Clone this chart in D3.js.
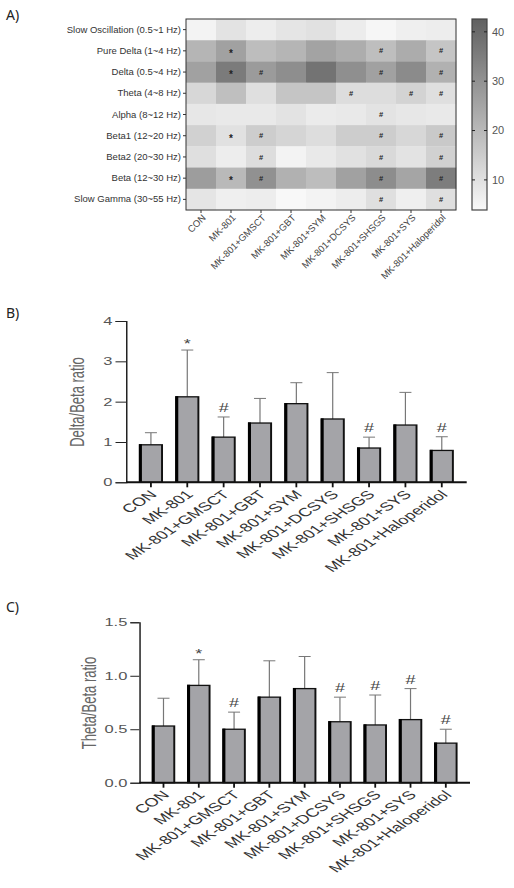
<!DOCTYPE html>
<html><head><meta charset="utf-8">
<script src="https://cdn.jsdelivr.net/npm/d3@7"></script>
<style>body{margin:0;background:#fff}text{font-family:"Liberation Sans",Arial,sans-serif}</style>
</head><body><svg id="c" width="514" height="888"></svg>
<script>
const groups = ["CON","MK-801","MK-801+GMSCT","MK-801+GBT","MK-801+SYM","MK-801+DCSYS","MK-801+SHSGS","MK-801+SYS","MK-801+Haloperidol"];
const bands = ["Slow Oscillation (0.5~1 Hz)","Pure Delta (1~4 Hz)","Delta (0.5~4 Hz)","Theta (4~8 Hz)","Alpha (8~12 Hz)","Beta1 (12~20 Hz)","Beta2 (20~30 Hz)","Beta (12~30 Hz)","Slow Gamma (30~55 Hz)"];
// relative power (%) per band (rows) x group (columns)
const slowOsc   = [5.3, 9.3, 6.8, 8.8, 9.8, 7.0, 4.5, 6.3, 6.8];
const pureDelta = [21, 26, 19, 21, 25.6, 23, 18.7, 23.3, 17];
const delta     = [26, 35.7, 27.6, 31, 37.8, 30.7, 26, 31.7, 22];
const theta     = [12.4, 18.5, 10.3, 17, 17, 10.9, 10.9, 13.4, 10.3];
const alpha     = [8.3, 7.8, 7.8, 9.3, 7.3, 7.8, 9.3, 8.3, 7.8];
const beta1     = [13.9, 9.8, 14.9, 12.9, 10.9, 14.9, 14.9, 12.4, 15.9];
const beta2     = [10.3, 6.8, 10.9, 5.3, 7.8, 9.8, 11.9, 9.3, 13.9];
const beta      = [27.1, 20, 30.2, 22, 19, 26, 31.2, 25, 35.2];
const slowGamma = [8.8, 6.3, 6.8, 4.0, 5.3, 6.8, 10.3, 6.3, 10.3];
const power = [slowOsc, pureDelta, delta, theta, alpha, beta1, beta2, beta, slowGamma];
const heatMarks = [
  ["","","","","","","","",""],
  ["","*","","","","","#","","#"],
  ["","*","#","","","","#","","#"],
  ["","","","","","#","","#","#"],
  ["","","","","","","#","",""],
  ["","*","#","","","","#","","#"],
  ["","","#","","","","#","","#"],
  ["","*","#","","","","#","","#"],
  ["","","","","","","#","","#"]
];
const colorDomain = [3.9, 42.6];
const colorTicks = [10, 20, 30, 40];

const deltaBeta    = [0.93, 2.12, 1.12, 1.47, 1.95, 1.57, 0.85, 1.42, 0.79];
const deltaBetaSD  = [0.30, 1.16, 0.50, 0.61, 0.52, 1.15, 0.27, 0.81, 0.34];
const deltaBetaSig = ["","*","#","","","","#","","#"];
const deltaTicks   = [0,1,2,3,4];

const thetaBeta    = [0.53, 0.91, 0.50, 0.80, 0.88, 0.57, 0.54, 0.59, 0.37];
const thetaBetaSD  = [0.26, 0.24, 0.16, 0.34, 0.30, 0.23, 0.28, 0.29, 0.13];
const thetaBetaSig = ["","*","#","","","#","#","#","#"];
const thetaTicks   = [0,0.5,1.0,1.5];

const svg = d3.select("#c");
svg.append("rect").attr("width",514).attr("height",888).attr("fill","#fff");

// panel letters
[["A)",20],["B)",318],["C)",612]].forEach(([t,y])=>{
  svg.append("text").attr("x",6).attr("y",y).text(t)
    .style("font-family","'Noto Sans',sans-serif").style("font-size","14px").attr("fill","#222");
});

// ---------- Panel A heatmap ----------
const hx = d3.scaleBand().domain(groups).range([186,456]);
const hy = d3.scaleBand().domain(bands).range([19,210]);
const col = d3.scaleLinear().domain(colorDomain).range(["#f8f8f8","#606060"]).clamp(true);
const gA = svg.append("g");
power.forEach((row,i)=>{
  row.forEach((v,j)=>{
    gA.append("rect").attr("x",hx(groups[j])).attr("y",hy(bands[i]))
      .attr("width",hx.bandwidth()+0.3).attr("height",hy.bandwidth()+0.3).attr("fill",col(v));
    const m = heatMarks[i][j];
    if(m){
      gA.append("text").attr("x",hx(groups[j])+hx.bandwidth()/2)
        .attr("y",hy(bands[i])+hy.bandwidth()/2).attr("dy", m==="*"?"0.62em":"0.35em")
        .attr("text-anchor","middle").style("font-size", m==="*"?"10px":"7.5px")
        .style("font-weight","bold").attr("fill","#222")
        .text(m);
    }
  });
});
gA.append("rect").attr("x",186).attr("y",19).attr("width",270).attr("height",191)
  .attr("fill","none").attr("stroke","#333").attr("stroke-width",1);
const ayAxis = gA.append("g").attr("transform","translate(186,0)")
  .call(d3.axisLeft(hy).tickSize(3).tickPadding(2));
ayAxis.select(".domain").remove();
ayAxis.selectAll("text").style("font-size","9.5px").attr("fill","#333");
ayAxis.selectAll("line").attr("stroke","#333");
const axAxis = gA.append("g").attr("transform","translate(0,210)")
  .call(d3.axisBottom(hx).tickSize(3).tickFormat(""));
axAxis.select(".domain").remove();
axAxis.selectAll("line").attr("stroke","#333");
groups.forEach(g=>{
  gA.append("text").attr("transform",`translate(${hx(g)+hx.bandwidth()/2+3},216) rotate(-45)`)
    .attr("text-anchor","end").attr("dy","0.35em").style("font-size","9.5px").attr("fill","#444").text(g);
});
// colorbar
const cy = d3.scaleLinear().domain(colorDomain).range([210,19]);
const defs = svg.append("defs");
const grad = defs.append("linearGradient").attr("id","cg").attr("x1",0).attr("y1",1).attr("x2",0).attr("y2",0);
d3.range(0,1.01,0.1).forEach(t=>{
  grad.append("stop").attr("offset",t).attr("stop-color",col(colorDomain[0]+t*(colorDomain[1]-colorDomain[0])));
});
gA.append("rect").attr("x",472).attr("y",19).attr("width",15).attr("height",191)
  .attr("fill","url(#cg)").attr("stroke","#444").attr("stroke-width",1.2);
colorTicks.forEach(t=>{
  gA.append("line").attr("x1",472).attr("x2",475).attr("y1",cy(t)).attr("y2",cy(t)).attr("stroke","#222");
  gA.append("line").attr("x1",484).attr("x2",487).attr("y1",cy(t)).attr("y2",cy(t)).attr("stroke","#222");
  gA.append("text").attr("x",492).attr("y",cy(t)).attr("dy","0.35em").style("font-size","11px")
    .attr("fill","#555").text(t);
});

// ---------- Bar panels (drawn in a horizontally stretched frame) ----------
const SX = 1.5;
function barPanel(cfg){
  const g = svg.append("g").attr("transform",`scale(${SX},1)`);
  const x = d3.scaleBand().domain(groups).range([cfg.x0/SX, cfg.x1/SX])
    .paddingInner(0.389).paddingOuter(0.38);
  const y = d3.scaleLinear().domain([0,cfg.max]).range([cfg.yb, cfg.yt]);
  // error bars
  cfg.vals.forEach((v,i)=>{
    const cx = x(groups[i])+x.bandwidth()/2;
    const top = y(v+cfg.sd[i]);
    g.append("line").attr("x1",cx).attr("x2",cx).attr("y1",y(v)).attr("y2",top)
      .attr("stroke","#777").attr("stroke-width",0.8);
    g.append("line").attr("x1",cx-4).attr("x2",cx+4).attr("y1",top).attr("y2",top)
      .attr("stroke","#777").attr("stroke-width",1);
    if(cfg.sig[i]){
      g.append("text").attr("x",cx).attr("y",cfg.sig[i]==="*"?top-2:top-5)
        .attr("text-anchor","middle").style("font-size","12px").attr("fill","#444").text(cfg.sig[i]);
    }
  });
  // bars
  cfg.vals.forEach((v,i)=>{
    const bx = x(groups[i]), bw = x.bandwidth();
    g.append("rect").attr("x",bx).attr("y",y(v)).attr("width",bw).attr("height",cfg.yb-y(v))
      .attr("fill","#a4a4a8").attr("stroke","#111").attr("stroke-width",1.3);
    g.append("rect").attr("x",bx-0.6).attr("y",y(v)-0.6).attr("width",2).attr("height",cfg.yb-y(v)+0.6)
      .attr("fill","#000");
  });
  // y axis
  const ya = g.append("g").attr("transform",`translate(${cfg.x0/SX},0)`)
    .call(d3.axisLeft(y).tickValues(cfg.ticks).tickFormat(cfg.fmt).tickSize(cfg.tick).tickPadding(2));
  ya.select(".domain").attr("stroke","#222").attr("stroke-width",1);
  ya.selectAll("line").attr("stroke","#222");
  ya.selectAll("text").style("font-size","11px").attr("fill","#555");
  // x axis
  const xa = g.append("g").attr("transform",`translate(0,${cfg.yb})`)
    .call(d3.axisBottom(x).tickSize(5).tickFormat("").tickSizeOuter(0));
  xa.select(".domain").attr("stroke","#111").attr("stroke-width",2)
    .attr("d",`M${cfg.x0/SX},0H${cfg.x1/SX}`);
  xa.selectAll("line").attr("stroke","#111").attr("stroke-width",1.2);
  groups.forEach(gn=>{
    g.append("text").attr("transform",`translate(${x(gn)+x.bandwidth()/2+1.5},${cfg.yb+cfg.lab}) rotate(-45)`)
      .attr("text-anchor","end").attr("dy","0.35em").style("font-size","12px").attr("fill","#333").text(gn);
  });
  // y label
  g.append("text").attr("transform",`translate(${cfg.lx/SX},${cfg.ly}) rotate(-90)`)
    .attr("text-anchor","middle").attr("dy","0.35em").style("font-size","13px").attr("fill","#666")
    .text(cfg.label);
}
barPanel({x0:126, x1:466.7, yb:482.3, yt:321, max:4, vals:deltaBeta, sd:deltaBetaSD, sig:deltaBetaSig,
  ticks:deltaTicks, fmt:d3.format("d"), tick:7, lab:10, lx:77, ly:402, label:"Delta/Beta ratio"});
barPanel({x0:139.3, x1:470, yb:782.7, yt:622.3, max:1.5, vals:thetaBeta, sd:thetaBetaSD, sig:thetaBetaSig,
  ticks:thetaTicks, fmt:d3.format(".1f"), tick:6, lab:10, lx:89, ly:703, label:"Theta/Beta ratio"});
</script></body></html>
